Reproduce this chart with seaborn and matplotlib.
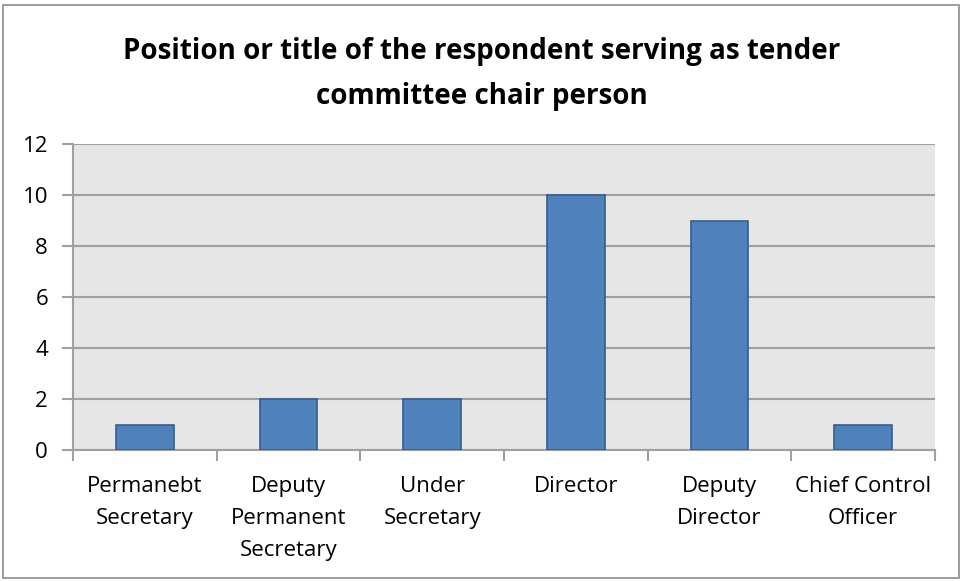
import matplotlib
matplotlib.use("Agg")
import matplotlib.pyplot as plt
import seaborn as sns
import pandas as pd
from matplotlib.patches import Rectangle

categories = ["Permanebt\nSecretary", "Deputy\nPermanent\nSecretary", "Under\nSecretary",
              "Director", "Deputy\nDirector", "Chief Control\nOfficer"]
counts = [1, 2, 2, 10, 9, 1]
y_ticks = [0, 2, 4, 6, 8, 10, 12]
title = "Position or title of the respondent serving as tender\ncommittee chair person"

sns.set_theme(style="white")
plt.rcParams["font.family"] = ["Open Sans", "DejaVu Sans"]
plt.rcParams["text.color"] = "black"

df = pd.DataFrame({"position": categories, "count": counts})

fig = plt.figure(figsize=(9.63, 5.81), dpi=100)
W, H = 963, 581
ax = fig.add_axes([73 / W, 1 - 450 / H, (935 - 73) / W, (450 - 144) / H])
ax.set_facecolor("#e6e6e6")

sns.barplot(data=df, x="position", y="count", ax=ax, color="#4f81bd",
            width=0.4, edgecolor="#385d8a", linewidth=1.2, saturation=1, zorder=3)

ax.set_ylim(0, 12)
ax.set_xlim(-0.5, len(categories) - 0.5)
ax.set_yticks(y_ticks)
ax.yaxis.grid(True, color="#a0a0a0", linewidth=1.5, zorder=1)
ax.set_axisbelow(True)
ax.set_xlabel("")
ax.set_ylabel("")

for side in ["top", "right"]:
    ax.spines[side].set_visible(False)
for side in ["left", "bottom"]:
    ax.spines[side].set_color("#a0a0a0")
    ax.spines[side].set_linewidth(1.5)

ax.tick_params(axis="y", length=8, width=1.5, color="#a0a0a0", pad=10,
               labelsize=16, labelcolor="black", left=True)
ax.set_xticks(range(len(categories)))
ax.set_xticklabels(categories, fontsize=16, color="black", linespacing=1.68)
ax.tick_params(axis="x", length=0, pad=19)
# category separator ticks on the x axis
ax.set_xticks([i - 0.5 for i in range(len(categories) + 1)], minor=True)
ax.tick_params(axis="x", which="minor", length=8, width=1.5, color="#a0a0a0", bottom=True)

fig.text(0.5, 1 - 74 / H, title, ha="center", va="center", fontsize=20,
         fontweight="bold", linespacing=1.76, color="black")

fig.patches.append(Rectangle((3 / W, 3 / H), (W - 7) / W, (H - 8) / H,
                             transform=fig.transFigure, fill=False,
                             edgecolor="#8c8c8c", linewidth=1.2))

fig.savefig("out.png", dpi=100)
